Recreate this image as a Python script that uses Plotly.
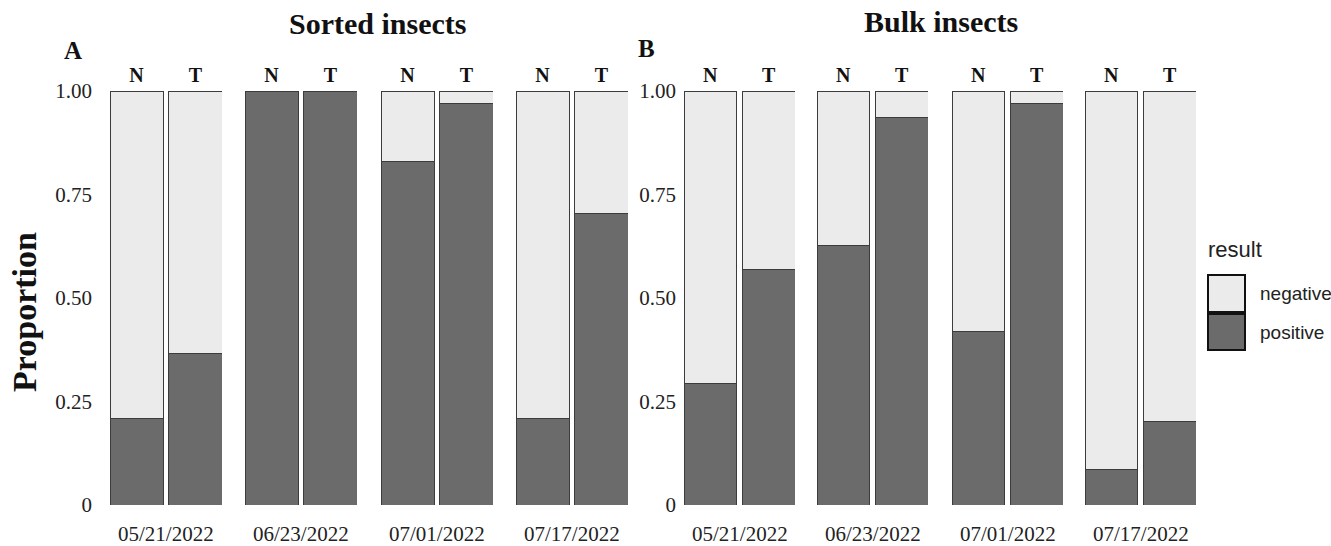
import plotly.graph_objects as go

# ---------------- data ----------------
dates = ["05/21/2022", "06/23/2022", "07/01/2022", "07/17/2022"]
groups = ["N", "T"]
results = ["negative", "positive"]

sorted_positive = [[0.208, 0.367], [1.000, 1.000], [0.829, 0.969], [0.208, 0.705]]
sorted_negative = [[0.792, 0.633], [0.000, 0.000], [0.171, 0.031], [0.792, 0.295]]
bulk_positive = [[0.293, 0.569], [0.628, 0.937], [0.420, 0.969], [0.086, 0.202]]
bulk_negative = [[0.707, 0.431], [0.372, 0.063], [0.580, 0.031], [0.914, 0.798]]

panel_titles = ["Sorted insects", "Bulk insects"]
panel_letters = ["A", "B"]
y_tickvals = [0, 0.25, 0.5, 0.75, 1.0]
y_ticktext = ["0", "0.25", "0.50", "0.75", "1.00"]

# ---------------- style / layout ----------------
W, H = 1331, 546
COL_POS = "#6b6b6b"
COL_NEG = "#ebebeb"
OUTLINE = "#3c3c3c"
SERIF = "Liberation Serif"
SANS = "Liberation Sans"

facet_px = [
    [(110, 222), (245, 357), (381, 493), (516, 628)],
    [(684, 795), (817, 928), (952, 1063), (1085, 1196)],
]
y_top_px, y_bot_px = 91, 505
ydom = [1 - y_bot_px / H, 1 - y_top_px / H]
standoffs = [17, 7]

fig = go.Figure()
layout_axes = {}
annotations = []

panels = [(sorted_positive, sorted_negative), (bulk_positive, bulk_negative)]
k = 0
for p, (pos, neg) in enumerate(panels):
    for d, date in enumerate(dates):
        k += 1
        xa = "x" if k == 1 else f"x{k}"
        ya = "y" if k == 1 else f"y{k}"
        fig.add_trace(go.Bar(
            x=groups, y=pos[d], name=results[1], xaxis=xa, yaxis=ya,
            marker=dict(color=COL_POS, line=dict(color=OUTLINE, width=1)),
            width=0.9, showlegend=False, legendgroup="positive"))
        fig.add_trace(go.Bar(
            x=groups, y=neg[d], name=results[0], xaxis=xa, yaxis=ya,
            marker=dict(color=COL_NEG, line=dict(color=OUTLINE, width=1)),
            width=0.9, showlegend=False, legendgroup="negative"))
        x0, x1 = facet_px[p][d]
        xkey = "xaxis" if k == 1 else f"xaxis{k}"
        ykey = "yaxis" if k == 1 else f"yaxis{k}"
        layout_axes[xkey] = dict(
            domain=[x0 / W, x1 / W], anchor=ya, side="top", automargin=False,
            type="category", categoryorder="array", categoryarray=groups,
            range=[-0.45, 1.45], showgrid=False, zeroline=False, showline=False,
            ticks="", ticklabelstandoff=4,
            tickfont=dict(family=SERIF, size=20, color="#111", weight="bold"))
        show_y = (d == 0)
        layout_axes[ykey] = dict(
            domain=ydom, anchor=xa, range=[0, 1], showgrid=False, zeroline=False,
            showline=False, ticks="", showticklabels=show_y, automargin=False,
            tickvals=y_tickvals, ticktext=y_ticktext,
            ticklabelstandoff=standoffs[p],
            tickfont=dict(family=SERIF, size=21, color="#222"))
        annotations.append(dict(
            text=date, xref=f"{xa} domain", x=0.5, yref="paper", y=1 - 534 / H,
            xanchor="center", yanchor="middle", showarrow=False,
            font=dict(family=SERIF, size=21, color="#222")))

# panel titles and letters
title_px = [(378, 24), (941, 22)]
letter_px = [(73, 50), (646, 48)]
for p in range(2):
    annotations.append(dict(
        text=panel_titles[p], xref="paper", yref="paper",
        x=title_px[p][0] / W, y=1 - title_px[p][1] / H,
        xanchor="center", yanchor="middle", showarrow=False,
        font=dict(family=SERIF, size=30, color="#111", weight="bold")))
    annotations.append(dict(
        text=panel_letters[p], xref="paper", yref="paper",
        x=letter_px[p][0] / W, y=1 - letter_px[p][1] / H,
        xanchor="center", yanchor="middle", showarrow=False,
        font=dict(family=SERIF, size=25, color="#111", weight="bold")))

# y-axis title
annotations.append(dict(
    text="Proportion", xref="paper", yref="paper", x=24 / W, y=1 - 312 / H,
    xanchor="center", yanchor="middle", textangle=-90, showarrow=False,
    font=dict(family=SERIF, size=34, color="#111", weight="bold")))

# legend (drawn with shapes + text to match the large keys)
shapes = []
leg_x0, leg_x1 = 1208, 1245
key_rows = [(results[0], COL_NEG, 275, 312), (results[1], COL_POS, 314, 350)]
annotations.append(dict(
    text="result", xref="paper", yref="paper", x=1206 / W, y=1 - 250 / H,
    xanchor="left", yanchor="middle", showarrow=False,
    font=dict(family=SANS, size=22, color="#222")))
for label, col, t, b in key_rows:
    shapes.append(dict(type="rect", xref="paper", yref="paper",
                       x0=leg_x0 / W, x1=leg_x1 / W, y0=1 - b / H, y1=1 - t / H,
                       fillcolor=col, line=dict(color="#111", width=2)))
    annotations.append(dict(
        text=label, xref="paper", yref="paper", x=1258 / W, y=1 - (t + b) / 2 / H,
        xanchor="left", yanchor="middle", showarrow=False,
        font=dict(family=SANS, size=19, color="#222")))

fig.update_layout(
    width=W, height=H, margin=dict(l=0, r=0, t=0, b=0, autoexpand=False),
    paper_bgcolor="white", plot_bgcolor="white",
    barmode="stack", bargap=0.1, showlegend=False,
    annotations=annotations, shapes=shapes, **layout_axes)

fig.write_html("out.html", config={"displayModeBar": False},
               post_script="document.body.style.margin='0';document.body.style.overflow='hidden';")
